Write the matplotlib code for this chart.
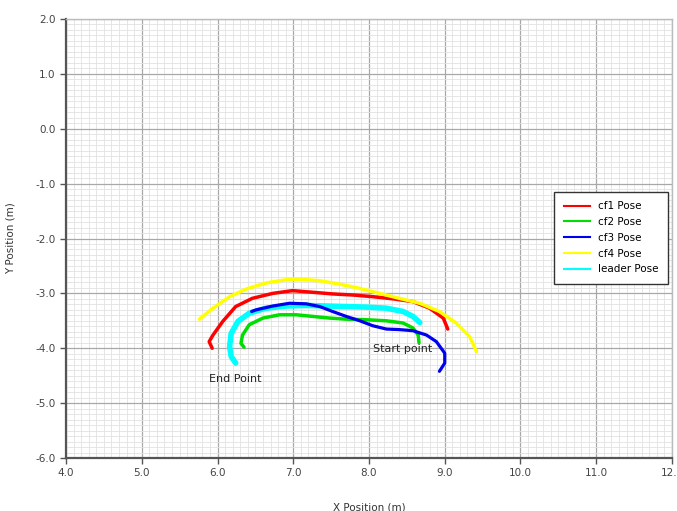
import matplotlib.pyplot as plt
from matplotlib.lines import Line2D
from matplotlib.ticker import MultipleLocator, FormatStrFormatter

# trajectories (x, y in metres)
cf1_x = [5.93, 5.89, 5.94, 6.07, 6.24, 6.46, 6.73, 6.99, 7.26, 7.52, 7.79, 8.05, 8.32, 8.58, 8.80, 8.98, 9.04]
cf1_y = [-4.00, -3.88, -3.76, -3.51, -3.24, -3.09, -3.00, -2.95, -2.98, -3.01, -3.03, -3.06, -3.10, -3.15, -3.27, -3.45, -3.65]

cf2_x = [6.35, 6.31, 6.33, 6.42, 6.60, 6.82, 7.04, 7.26, 7.48, 7.70, 7.96, 8.23, 8.45, 8.58, 8.65, 8.66]
cf2_y = [-3.98, -3.91, -3.76, -3.57, -3.45, -3.39, -3.39, -3.42, -3.45, -3.47, -3.48, -3.50, -3.54, -3.63, -3.76, -3.90]

cf3_x = [6.45, 6.51, 6.73, 6.95, 7.17, 7.35, 7.52, 7.70, 7.88, 8.05, 8.23, 8.40, 8.58, 8.76, 8.89, 9.00, 9.00, 8.93]
cf3_y = [-3.33, -3.30, -3.23, -3.18, -3.19, -3.24, -3.33, -3.42, -3.50, -3.59, -3.65, -3.66, -3.68, -3.76, -3.88, -4.09, -4.27, -4.42]

cf4_x = [5.76, 5.94, 6.16, 6.38, 6.64, 6.91, 7.08, 7.35, 7.61, 7.88, 8.14, 8.40, 8.67, 8.93, 9.15, 9.33, 9.42]
cf4_y = [-3.47, -3.27, -3.06, -2.92, -2.81, -2.75, -2.74, -2.77, -2.83, -2.91, -3.00, -3.09, -3.18, -3.33, -3.54, -3.79, -4.06]

leader_x = [6.24, 6.18, 6.16, 6.18, 6.27, 6.42, 6.64, 6.91, 7.17, 7.43, 7.70, 7.96, 8.23, 8.45, 8.58, 8.67]
leader_y = [-4.27, -4.15, -3.97, -3.73, -3.51, -3.36, -3.27, -3.23, -3.22, -3.23, -3.24, -3.25, -3.27, -3.33, -3.42, -3.53]

names = ['cf1 Pose', 'cf2 Pose', 'cf3 Pose', 'cf4 Pose', 'leader Pose']
colors = ['#ff0000', '#00dd00', '#0000ee', '#ffff00', '#00ffff']

fig = plt.figure(figsize=(6.77, 5.11), dpi=100)
ax = fig.add_axes([0.0975, 0.1037, 0.8951, 0.8591])

style = dict(solid_joinstyle='round', solid_capstyle='round')
ax.plot(cf1_x, cf1_y, color=colors[0], lw=2.5, **style)
ax.plot(cf2_x, cf2_y, color=colors[1], lw=2.5, **style)
ax.plot(leader_x, leader_y, color=colors[4], lw=4.0, **style)
ax.plot(cf3_x, cf3_y, color=colors[2], lw=2.3, **style)
ax.plot(cf4_x, cf4_y, color=colors[3], lw=2.5, **style)

ax.text(8.05, -4.06, 'Start point', fontsize=8, color='#222222')
ax.text(5.89, -4.62, 'End Point', fontsize=8, color='#222222')

ax.set_xlim(4, 12)
ax.set_ylim(-6, 2)
ax.xaxis.set_major_locator(MultipleLocator(1))
ax.yaxis.set_major_locator(MultipleLocator(1))
ax.xaxis.set_minor_locator(MultipleLocator(0.1))
ax.yaxis.set_minor_locator(MultipleLocator(0.1))
ax.xaxis.set_major_formatter(FormatStrFormatter('%.1f'))
ax.yaxis.set_major_formatter(FormatStrFormatter('%.1f'))
ax.grid(True, which='major', color='#a8a8a8', lw=0.9)
ax.grid(True, which='minor', color='#e2e2e2', lw=0.6)
ax.set_axisbelow(True)

ax.tick_params(which='major', length=4, width=1, colors='#555555', labelsize=7.5, labelcolor='#444444')
ax.tick_params(which='minor', length=0)
for s in ['left', 'bottom']:
    ax.spines[s].set_color('#555555')
    ax.spines[s].set_linewidth(1.6)
for s in ['top', 'right']:
    ax.spines[s].set_color('#bbbbbb')
    ax.spines[s].set_linewidth(1.0)

ax.set_xlabel('X Position (m)', fontsize=7.5, color='#333333', labelpad=17)
ax.set_ylabel('Y Position (m)', fontsize=7.5, color='#333333', labelpad=14)

handles = [Line2D([], [], color=c, lw=1.5) for c in colors]
leg = ax.legend(handles, names, loc='upper right', bbox_to_anchor=(668 / 677, 1 - 192 / 511),
                bbox_transform=fig.transFigure, borderaxespad=0, fontsize=7.5,
                fancybox=False, framealpha=1, handlelength=2.5, labelspacing=0.55,
                borderpad=0.9)
leg.get_frame().set_edgecolor('#333333')
leg.get_frame().set_linewidth(1.0)

plt.savefig('out.png', dpi=100)
